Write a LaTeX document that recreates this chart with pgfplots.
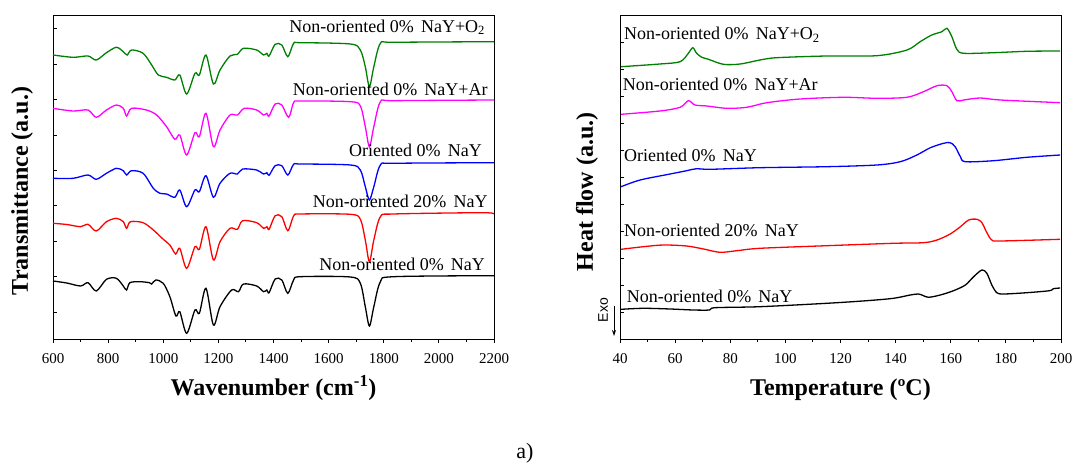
\documentclass[border=0pt]{standalone}
\usepackage{fontspec}
\setmainfont{Liberation Serif}
\setsansfont{Liberation Sans}
\usepackage{pgfplots}
\pgfplotsset{compat=1.18}
\usetikzlibrary{arrows.meta}
\definecolor{cgreen}{RGB}{0,128,0}
\definecolor{cmag}{RGB}{255,0,255}
\definecolor{cblue}{RGB}{0,0,255}
\definecolor{cred}{RGB}{255,0,0}
\newcommand{\lbl}{\fontsize{18}{21}\selectfont}
\newcommand{\gap}{\hspace{0.4em}}
\begin{document}
\begin{tikzpicture}
\useasboundingbox (0,0) rectangle (1075pt,466pt);
\pgfplotsset{common/.style={
  scale only axis, width=441pt, height=324pt, anchor=south west,
  ymin=0, ymax=324, clip=false,
  tick align=inside, tick pos=left,
  axis line style={line width=0.9pt},
  every tick/.style={black, line width=0.9pt},
  major tick length=4pt, minor tick length=2.5pt,
  every major x tick/.append style={yshift=-4pt},
  every minor x tick/.append style={yshift=-2.5pt},
  yticklabels={},
  /pgf/number format/assume math mode=true,
  /pgf/number format/1000 sep={},
  ticklabel style={font=\fontsize{15}{18}\selectfont},
  xticklabel style={anchor=center, yshift=-19.5pt},
  xlabel style={font=\fontsize{24}{28}\selectfont\bfseries, at={(axis description cs:0.5,-0.151)}, anchor=center},
  ylabel style={font=\fontsize{24}{28}\selectfont\bfseries, anchor=center},
  every axis plot/.append style={line width=1.3pt, smooth, tension=0.5, no markers},
}}
% ---------------- Left panel: FTIR ----------------
\begin{axis}[common, at={(53pt,127pt)},
  xmin=600, xmax=2200, xtick={600,800,...,2200}, minor x tick num=1,
  ytick={27,62.4,97.8,133.2,168.6,204,239.4,274.8,310.2},
  xlabel={Wavenumber (cm\textsuperscript{-1})},
  ylabel={Transmittance (a.u.)},
  ylabel style={at={(axis description cs:-0.0703,0.457)}}]
\addplot[black] coordinates {(600,58) (650,56) (700,53) (727,56.3) (757,48) (794,59.7) (830,60.7) (855,53) (867,49) (879,56.3) (915,57.3) (950,56.3) (958,55) (973,59) (1000,55.7) (1024,42.3) (1046,23) (1060,27.3) (1085,5.7) (1115,29) (1131,25.7) (1155,50.7) (1182,14) (1206,32.3) (1248,49) (1273,47.3) (1291,55) (1339,53) (1364,47.3) (1376,49) (1384,46.3) (1406,60) (1430,59) (1452,45.7) (1473,59) (1497,62.3) (1679,62) (1715,55.7) (1733,32.3) (1748,13) (1764,32.3) (1788,57.3) (1836,62.3) (2200,63.3)};
\addplot[cred] coordinates {(600,115.7) (650,114.5) (700,112.3) (727,114.7) (757,108) (794,117.3) (830,120.7) (855,117.3) (867,110.7) (881,117.3) (927,116.3) (964,109) (1000,99.7) (1024,94) (1045,85) (1060,90.7) (1085,70.7) (1115,92.3) (1131,89.7) (1155,112.3) (1182,79) (1206,97.3) (1242,110.7) (1269,109.7) (1288,118.3) (1339,116.3) (1364,110.7) (1376,112.3) (1384,109.7) (1406,123.3) (1430,122.3) (1452,108.3) (1473,123) (1497,125) (1679,124.7) (1715,119.7) (1733,99) (1748,77.3) (1764,99) (1788,122.3) (1836,125) (2151,126.3) (2200,125.3)};
\addplot[cblue] coordinates {(600,160.7) (673,160.7) (727,164) (757,159.7) (794,165.7) (830,170.7) (855,168.3) (867,164) (885,168.3) (927,165.7) (964,150.7) (988,145.7) (1012,145) (1042,141.7) (1060,149) (1085,132.3) (1115,149) (1131,147.3) (1155,163.3) (1182,141.7) (1206,155.7) (1242,165.7) (1269,165) (1288,170) (1339,169) (1364,165) (1376,166.3) (1384,163.7) (1406,173.3) (1430,173.3) (1452,164) (1473,174.7) (1497,175) (1679,174) (1715,169) (1733,152.3) (1748,139) (1764,152.3) (1788,174) (1836,175.7) (2200,176.3)};
\addplot[cmag] coordinates {(600,230.7) (673,228) (727,229) (757,221.7) (794,229) (830,234) (855,230.7) (867,223) (885,230.7) (939,229) (976,224) (1012,212.3) (1042,199.7) (1060,204) (1085,184) (1115,206.3) (1131,202.3) (1155,225.7) (1182,192.3) (1206,209) (1242,224) (1269,224) (1294,230.7) (1339,229) (1364,224) (1376,225.7) (1384,223) (1406,235) (1430,234) (1455,221.7) (1473,236.3) (1497,238) (1679,237.3) (1715,233) (1733,212.3) (1748,192.3) (1764,212.3) (1788,237.3) (1836,238.3) (2200,239)};
\addplot[cgreen] coordinates {(600,284) (673,281.7) (727,283) (757,279) (794,286.3) (830,291.7) (855,287.3) (869,284) (885,289) (927,285.7) (958,274) (982,264) (1012,261.7) (1042,259) (1060,264) (1085,245) (1115,265.7) (1131,264) (1155,284) (1182,255) (1206,269) (1242,283) (1269,284.7) (1291,290.7) (1339,289) (1364,284) (1376,285.7) (1384,283) (1406,294.7) (1430,294) (1452,282.3) (1473,295.7) (1497,296.3) (1679,295) (1715,289) (1733,272.3) (1748,252.3) (1764,272.3) (1788,295.7) (1836,296.7) (2200,297.3)};
\node[anchor=base east, inner sep=0pt, font=\lbl] at (rel axis cs:0.980,0.9466) {Non-oriented 0\%\gap NaY+O\textsubscript{2}};
\node[anchor=base east, inner sep=0pt, font=\lbl] at (rel axis cs:0.986,0.7509) {Non-oriented 0\%\gap NaY+Ar};
\node[anchor=base east, inner sep=0pt, font=\lbl] at (rel axis cs:0.973,0.5627) {Oriented 0\%\gap NaY};
\node[anchor=base east, inner sep=0pt, font=\lbl] at (rel axis cs:0.986,0.4053) {Non-oriented 20\%\gap NaY};
\node[anchor=base east, inner sep=0pt, font=\lbl] at (rel axis cs:0.980,0.2099) {Non-oriented 0\%\gap NaY};
\end{axis}
% ---------------- Right panel: DSC ----------------
\begin{axis}[common, at={(620pt,127pt)},
  xmin=40, xmax=200, xtick={40,60,...,200}, minor x tick num=1,
  ytick={27,54,...,297},
  xlabel={Temperature (ºC)},
  ylabel={Heat flow (a.u.)},
  xlabel style={at={(axis description cs:0.5,-0.157)}},
  ylabel style={at={(axis description cs:-0.075,0.454)}}]
\addplot[black] coordinates {(40.4,29.7) (48.5,30.7) (58.2,30) (66.6,29) (72.5,29) (74.5,31.3) (90.8,32.3) (115,35.7) (129.5,38.3) (139.2,40.7) (145.3,44) (148.3,45) (150.1,43.3) (152,41.7) (156.2,44) (161,48.3) (165.3,54) (168.3,62.3) (171.3,69) (173.1,65.7) (174.9,54) (176.7,46.3) (179.2,45) (187.6,46.3) (195.8,48.3) (197.2,50.3) (199.7,51)};
\addplot[cred] coordinates {(40.4,89.7) (48.5,92.3) (55.7,94) (64.2,93) (70.3,90) (76.3,86.7) (82.4,88.3) (90.8,90.7) (115,93.3) (139.2,95.7) (150.1,96.3) (155,99) (159.8,105) (163.5,112.3) (166.5,119) (169.5,119.7) (171.3,116.3) (173.1,106.3) (174.9,99) (178,98) (199.7,99.7)};
\addplot[cblue] coordinates {(40.4,152.3) (47.3,159) (58.2,165) (64.2,168.3) (67.8,170.3) (72.7,169.7) (90.8,171.3) (115,172.3) (133.2,174) (141.7,177.3) (147.7,184) (152.6,191.3) (157.4,195.7) (159.8,196.3) (161.6,192.3) (163.5,182.3) (165.3,177.3) (175.6,178.3) (187.6,181.7) (199.7,184)};
\addplot[cmag] coordinates {(40.4,224.7) (54.5,228) (61.8,231.7) (64.8,238.3) (67.2,234) (71.5,233) (78.7,230.7) (86,231.7) (93.3,236.3) (105.4,240) (121.1,241.7) (133.2,240.7) (144.1,241.7) (150.1,247.3) (155,253.3) (158.6,253.3) (160.4,247.3) (162.2,238.3) (164.7,239) (170.7,241) (178,239) (199.7,236.3)};
\addplot[cgreen] coordinates {(40.4,272.3) (54.5,275) (61.8,277.3) (64.8,285.7) (66.4,291.3) (67.8,285.7) (69.7,281.7) (72.1,279.7) (77.5,274.7) (83.6,275) (90.8,279) (96.9,281.3) (115,283) (133.2,283.3) (144.1,289) (148.9,297.3) (153.1,304) (156.8,307.3) (158.6,310.7) (160.4,302.3) (162.2,289.7) (164.7,285.7) (175.6,286.3) (187.6,287.7) (199.7,288)};
\node[anchor=base west, inner sep=0pt, font=\lbl] at (rel axis cs:0.009,0.923) {Non-oriented 0\%\gap NaY+O\textsubscript{2}};
\node[anchor=base west, inner sep=0pt, font=\lbl] at (rel axis cs:0.006,0.766) {Non-oriented 0\%\gap NaY+Ar};
\node[anchor=base west, inner sep=0pt, font=\lbl] at (rel axis cs:0.009,0.547) {Oriented 0\%\gap NaY};
\node[anchor=base west, inner sep=0pt, font=\lbl] at (rel axis cs:0.009,0.316) {Non-oriented 20\%\gap NaY};
\node[anchor=base west, inner sep=0pt, font=\lbl] at (rel axis cs:0.015,0.112) {Non-oriented 0\%\gap NaY};
\end{axis}
% Exo arrow and caption
\draw[-{Stealth[length=6pt,width=4pt]}, line width=0.8pt] (614pt,160pt) -- (614pt,130pt);
\node[rotate=90, font=\sffamily\fontsize{14}{16}\selectfont, inner sep=0pt] at (603pt,156pt) {Exo};
\node[font=\fontsize{22}{26}\selectfont, inner sep=0pt] at (525pt,13pt) {a)};
\end{tikzpicture}
\end{document}
